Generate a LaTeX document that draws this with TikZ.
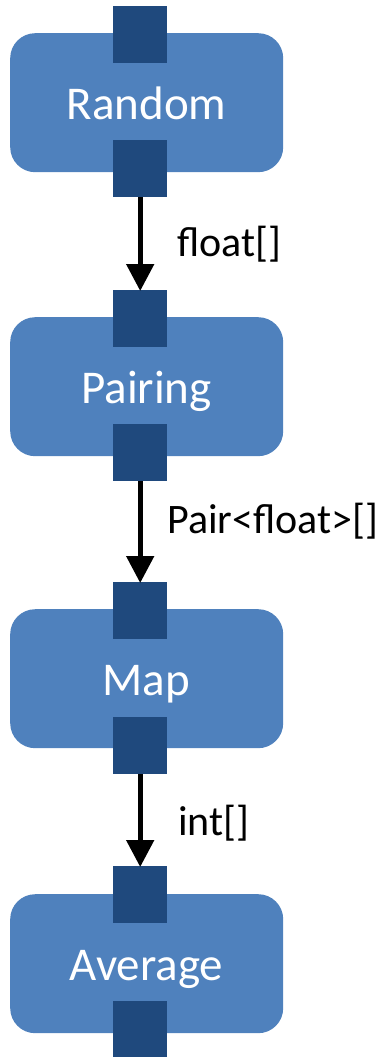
\documentclass[tikz,border=0pt]{standalone}
\usepackage{fontspec}
\setmainfont{Carlito}
\usetikzlibrary{arrows.meta}
\definecolor{stageblue}{HTML}{4F81BD}
\definecolor{portblue}{HTML}{1F497D}
\begin{document}
\begin{tikzpicture}[x=1pt,y=-1pt,
  stagebox/.style={fill=stageblue, draw=none, rounded corners=25pt,
    minimum width=273pt, minimum height=139pt, inner sep=0pt, anchor=north west},
  stagetext/.style={text=white, font=\fontsize{47}{50}\selectfont, anchor=base, inner sep=0pt},
  portbox/.style={fill=portblue, draw=none, minimum width=54pt, minimum height=57pt,
    inner sep=0pt, anchor=north west},
  flow/.style={line width=5pt, -{Triangle[length=27pt,width=27pt]}, shorten >=-1pt},
  typelabel/.style={font=\fontsize{42}{45}\selectfont, anchor=base west, inner sep=0pt}]
\useasboundingbox (0,0) rectangle (383,1057);

% stages
\node[stagebox] (random)  at (10,33)  {};
\node[stagebox] (pairing) at (10,317) {};
\node[stagebox] (map)     at (10,609) {};
\node[stagebox] (average) at (10,894) {};

\node[stagetext] (randomlbl)  at (146.5,119) {Random};
\node[stagetext] (pairinglbl) at (146.5,403) {Pairing};
\node[stagetext] (maplbl)     at (146.5,695) {Map};
\node[stagetext] (averagelbl) at (146.5,980) {Average};

% input and output ports
\node[portbox] (random-in)   at (113,6)   {};
\node[portbox] (random-out)  at (113,140) {};
\node[portbox] (pairing-in)  at (113,290) {};
\node[portbox] (pairing-out) at (113,424) {};
\node[portbox] (map-in)      at (113,582) {};
\node[portbox] (map-out)     at (113,717) {};
\node[portbox] (average-in)  at (113,866) {};
\node[portbox] (average-out) at (113,1001) {};

% data flow
\draw[flow] (random-out.south)  -- (pairing-in.north);
\draw[flow] (pairing-out.south) -- (map-in.north);
\draw[flow] (map-out.south)     -- (average-in.north);

\node[typelabel] (t1) at (177,256) {float[]};
\node[typelabel] (t2) at (167,533) {Pair<float>[]};
\node[typelabel] (t3) at (178,835) {int[]};
\end{tikzpicture}
\end{document}
